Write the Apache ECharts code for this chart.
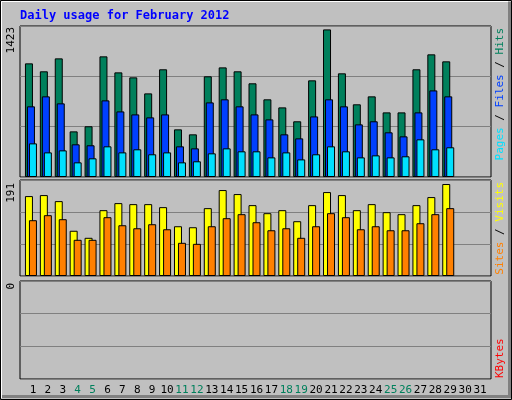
<!DOCTYPE html>
<html>
<head>
<meta charset="utf-8">
<script src="https://cdn.jsdelivr.net/npm/echarts@6/dist/echarts.min.js"></script>
<style>html,body{margin:0;padding:0;background:#c0c0c0}#chart{width:512px;height:400px}</style>
</head>
<body>
<div id="chart"></div>
<script>
const days = Array.from({ length: 31 }, (_, i) => String(i + 1))
const weekends = ['4', '5', '11', '12', '18', '19', '25', '26']
// 点击数 / 文件 / 页面
const hits = [1071, 996, 1118, 430, 478, 1137, 986, 939, 788, 1015, 449, 402, 949, 1033, 996, 883, 732, 656, 525, 911, 1391, 977, 685, 760, 609, 609, 1015, 1156, 1090]
const files = [666, 760, 694, 308, 299, 722, 618, 590, 562, 590, 289, 270, 703, 732, 666, 590, 543, 402, 364, 571, 732, 666, 496, 525, 421, 383, 609, 816, 760]
const pages = [317, 232, 251, 138, 176, 289, 232, 261, 214, 232, 138, 148, 223, 270, 242, 242, 185, 232, 166, 214, 289, 242, 185, 204, 185, 195, 355, 261, 280]
// 访问 / 站点
const visits = [159, 161, 149, 90, 76, 131, 145, 143, 143, 137, 99, 97, 135, 171, 163, 141, 125, 131, 109, 141, 167, 161, 131, 143, 127, 123, 141, 157, 183]
const sites = [111, 121, 113, 72, 72, 117, 101, 95, 103, 93, 66, 64, 99, 115, 123, 107, 91, 95, 76, 99, 125, 117, 93, 99, 91, 91, 105, 123, 135]
const kbytes = []
const maxTop = 1423
const maxMid = 191

const mono = 'DejaVu Sans Mono'
const panels = [
  { top: 26, height: 151, max: maxTop },
  { top: 180, height: 96, max: maxMid },
  { top: 281, height: 98, max: 1 }
]
const grid = []
const xAxis = []
const yAxis = []
panels.forEach((p, i) => {
  // 框架网格
  grid.push({ left: 20, width: 471, top: p.top, height: p.height, show: true, borderColor: '#000', borderWidth: 1, backgroundColor: 'transparent' })
  xAxis.push({ gridIndex: grid.length - 1, type: 'value', show: false })
  yAxis.push({ gridIndex: grid.length - 1, type: 'value', min: 0, max: p.max, interval: p.max / 3,
    axisLabel: { show: false }, axisLine: { show: false }, axisTick: { show: false },
    splitLine: { lineStyle: { color: '#808080', width: 1 } } })
  // 柱子网格
  grid.push({ left: i === 2 ? 25.5 : 23.5, width: 462, top: p.top, height: p.height })
  xAxis.push({ gridIndex: grid.length - 1, type: 'category', data: days, show: i === 2,
    axisLine: { show: false }, axisTick: { show: false },
    axisLabel: { interval: 0, margin: 6, fontFamily: mono, fontSize: 11,
      color: (v) => weekends.includes(v) ? '#00805c' : '#000' } })
  yAxis.push({ gridIndex: grid.length - 1, type: 'value', min: 0, max: p.max, show: false, splitLine: { show: false } })
})

const bar = (name, data, color, axis, gap) => ({
  name, type: 'bar', data, xAxisIndex: axis, yAxisIndex: axis, barWidth: 8, barGap: gap,
  itemStyle: { color, borderColor: '#000', borderWidth: 1 }, animation: false, silent: true
})

const rtext = (x, y, text, align, rich) => ({
  type: 'text', x, y, rotation: Math.PI / 2,
  style: { text, align, verticalAlign: 'middle', font: '11px ' + mono, fill: '#000', rich }
})

const chart = echarts.init(document.getElementById('chart'))
chart.setOption({
  backgroundColor: '#c0c0c0',
  grid, xAxis, yAxis,
  series: [
    bar('Hits', hits, '#00805c', 1, '-75%'),
    bar('Files', files, '#0040ff', 1, '-75%'),
    bar('Pages', pages, '#00e0ff', 1, '-75%'),
    bar('Visits', visits, '#ffff00', 3, '-50%'),
    bar('Sites', sites, '#ff8000', 3, '-50%'),
    bar('KBytes', kbytes, '#ff0000', 5, '-50%')
  ],
  graphic: [
    { type: 'rect', shape: { x: 0.5, y: 0.5, width: 511, height: 399 }, style: { fill: 'none', stroke: '#000' }, z: 1 },
    { type: 'polyline', shape: { points: [[1.5, 398], [1.5, 1.5], [508, 1.5]] }, style: { stroke: '#fff', lineWidth: 1 } },
    { type: 'polyline', shape: { points: [[2, 396.5], [509.5, 396.5], [509.5, 2]] }, style: { stroke: '#808080', lineWidth: 3 } },
    { type: 'text', x: 20, y: 16, style: { text: 'Daily usage for February 2012', font: 'bold 12px ' + mono, fill: '#0000ff', verticalAlign: 'middle' } },
    rtext(11, 27, '1423', 'right'),
    rtext(11, 183, '191', 'right'),
    rtext(11, 283, '0', 'right'),
    rtext(500, 28, '{p|Pages} / {f|Files} / {h|Hits}', 'right', {
      p: { fill: '#00e0ff', font: '11px ' + mono }, f: { fill: '#0040ff', font: '11px ' + mono }, h: { fill: '#00805c', font: '11px ' + mono } }),
    rtext(500, 182, '{s|Sites} / {v|Visits}', 'right', {
      s: { fill: '#ff8000', font: '11px ' + mono }, v: { fill: '#ffff00', font: '11px ' + mono } }),
    rtext(500, 378, '{k|KBytes}', 'left', { k: { fill: '#ff0000', font: '11px ' + mono } })
  ]
})
</script>
</body>
</html>
